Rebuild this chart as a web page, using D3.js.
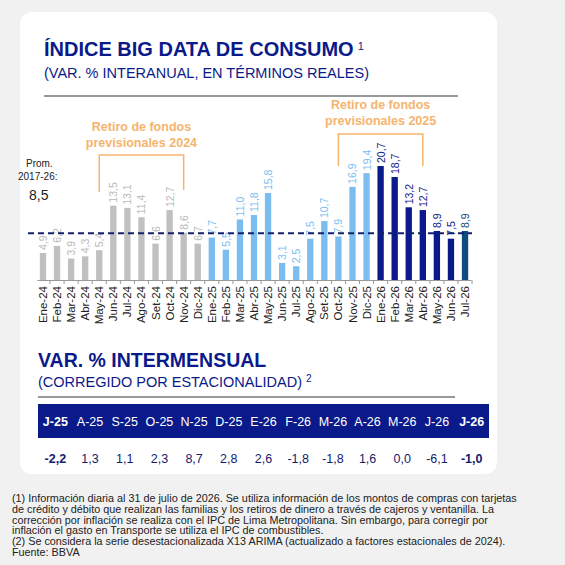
<!DOCTYPE html>
<html><head><meta charset="utf-8">
<script src="https://cdn.jsdelivr.net/npm/d3@7"></script>
<style>body{margin:0;background:#f1f1f1}svg{display:block;font-family:"Liberation Sans",Arial,sans-serif}</style>
</head><body><svg id="svg" width="565" height="565"></svg>
<script>
const months = ["Ene-24","Feb-24","Mar-24","Abr-24","May-24","Jun-24","Jul-24","Ago-24","Set-24","Oct-24","Nov-24","Dic-24",
  "Ene-25","Feb-25","Mar-25","Abr-25","May-25","Jun-25","Jul-25","Ago-25","Set-25","Oct-25","Nov-25","Dic-25",
  "Ene-26","Feb-26","Mar-26","Abr-26","May-26","Jun-26","Jul-26"];
const values = [4.9,6.2,3.9,4.3,5.4,13.5,13.1,11.4,6.6,12.7,8.6,6.6,7.7,5.5,11.0,11.8,15.8,3.1,2.5,7.5,10.7,7.9,16.9,19.4,20.7,18.7,13.2,12.7,8.9,7.5,8.9];
const labels = ["4,9","6,2","3,9","4,3","5,4","13,5","13,1","11,4","6,6","12,7","8,6","6,7","7,7","5,5","11,0","11,8","15,8","3,1","2,5","7,5","10,7","7,9","16,9","19,4","20,7","18,7","13,2","12,7","8,9","7,5","8,9"];
const average = 8.5;
const tableMonths = ["J-25","A-25","S-25","O-25","N-25","D-25","E-26","F-26","M-26","A-26","M-26","J-26","J-26"];
const tableValues = ["-2,2","1,3","1,1","2,3","8,7","2,8","2,6","-1,8","-1,8","1,6","0,0","-6,1","-1,0"];

const navy = "#0b1a8a";
const svg = d3.select("#svg");
svg.append("rect").attr("x",20).attr("y",12).attr("width",477).attr("height",462).attr("rx",12).attr("fill","#fff");

function color(i){ return i<12 ? "#c0c0c0" : i<24 ? "#7cbdf0" : i<30 ? navy : "#0d4c80"; }
function lcolor(i){ return i<12 ? "#b8b8b8" : i<24 ? "#7cbdf0" : i<30 ? navy : "#0d4c80"; }

// titles
svg.append("text").attr("x",44).attr("y",56).attr("fill",navy).attr("font-size",20).attr("font-weight","bold")
  .text("ÍNDICE BIG DATA DE CONSUMO").append("tspan").attr("font-size",11).attr("font-weight","normal").attr("dy",-6).attr("dx",4).text("1");
svg.append("text").attr("x",44).attr("y",78).attr("fill",navy).attr("font-size",14.5).text("(VAR. % INTERANUAL, EN TÉRMINOS REALES)");
svg.append("line").attr("x1",44).attr("x2",458).attr("y1",96).attr("y2",96).attr("stroke","#333").attr("stroke-width",1);

const x = d3.scaleBand().domain(months).range([37,471]).paddingInner(0.55).paddingOuter(0.2);
const y = d3.scaleLinear().domain([0,20.7]).range([280,166]);

const g = svg.append("g");
g.selectAll("rect.bar").data(values).join("rect").attr("class","bar")
  .attr("x",(d,i)=>x(months[i])).attr("width",x.bandwidth())
  .attr("y",d=>y(d)).attr("height",d=>y(0)-y(d)).attr("fill",(d,i)=>color(i));
g.selectAll("text.val").data(values).join("text").attr("class","val")
  .attr("transform",(d,i)=>`translate(${x(months[i])+x.bandwidth()/2+4},${y(d)-3}) rotate(-90)`)
  .attr("font-size",10.5).attr("fill",(d,i)=>lcolor(i)).text((d,i)=>labels[i]);

const ax = svg.append("g").attr("transform","translate(0,280)").call(d3.axisBottom(x).tickSize(4).tickSizeOuter(0));
ax.select(".domain").attr("stroke","#999");
ax.selectAll(".tick line").attr("stroke","#999").attr("transform",`translate(${x.step()/2},0)`);
ax.selectAll(".tick text").attr("transform","rotate(-90)").attr("text-anchor","end").attr("x",-6).attr("y",0).attr("dy","0.35em")
  .attr("font-size",11.5).attr("fill","#222").attr("font-family","Liberation Sans, Arial");

// average line
svg.append("line").attr("x1",28).attr("x2",472).attr("y1",y(average)).attr("y2",y(average))
  .attr("stroke","#14206e").attr("stroke-width",2).attr("stroke-dasharray","6,4");
svg.append("text").attr("x",26).attr("y",167).attr("font-size",10).attr("fill","#222").text("Prom.");
svg.append("text").attr("x",18).attr("y",180).attr("font-size",10).attr("fill","#222").text("2017-26:");
svg.append("text").attr("x",29).attr("y",200).attr("font-size",14).attr("fill","#222").text("8,5");

// annotations
const orange = "#f5b46e";
function bracket(i0,i1,top,bl,br,tx,ty){
  const x0 = x(months[i0])+x.bandwidth()/2, x1 = x(months[i1])+x.bandwidth()/2;
  svg.append("path").attr("d",`M${x0},${bl}V${top}H${x1}V${br}`).attr("fill","none").attr("stroke",orange).attr("stroke-width",1.5);
  tx.forEach((t,k)=>svg.append("text").attr("x",(x0+x1)/2).attr("y",ty+k*16).attr("text-anchor","middle")
    .attr("font-size",12.5).attr("font-weight","bold").attr("fill",orange).text(t));
}
bracket(4,10,155,192,190,["Retiro de fondos","previsionales 2024"],131);
bracket(21,27,134,166,166,["Retiro de fondos","previsionales 2025"],109);

// table section
svg.append("text").attr("x",38).attr("y",367).attr("fill",navy).attr("font-size",19.5).attr("font-weight","bold").text("VAR. % INTERMENSUAL");
svg.append("text").attr("x",38).attr("y",387).attr("fill",navy).attr("font-size",14.5)
  .text("(CORREGIDO POR ESTACIONALIDAD)").append("tspan").attr("font-size",10).attr("dy",-5).attr("dx",4).text("2");
svg.append("line").attr("x1",38).attr("x2",455).attr("y1",397).attr("y2",397).attr("stroke","#333");
svg.append("rect").attr("x",38).attr("y",404).attr("width",451).attr("height",34).attr("fill",navy);
const tx = d3.scaleBand().domain(d3.range(tableMonths.length)).range([38,489]);
tableMonths.forEach((m,i)=>{
  const b = i===0||i===tableMonths.length-1;
  svg.append("text").attr("x",tx(i)+tx.bandwidth()/2).attr("y",426).attr("text-anchor","middle").attr("fill","#fff")
    .attr("font-size",12.5).attr("font-weight",b?"bold":"normal").text(m);
  svg.append("text").attr("x",tx(i)+tx.bandwidth()/2).attr("y",463).attr("text-anchor","middle").attr("fill","#14206e")
    .attr("font-size",12.5).attr("font-weight",b?"bold":"normal").text(tableValues[i]);
});

// footnotes
const notes = ["(1) Información diaria al 31 de julio de 2026. Se utiliza información de los montos de compras con tarjetas",
 "de crédito y débito que realizan las familias y los retiros de dinero a través de cajeros y ventanilla. La",
 "corrección por inflación se realiza con el IPC de Lima Metropolitana. Sin embargo, para corregir por",
 "inflación el gasto en Transporte se utiliza el IPC de combustibles.",
 "(2) Se considera la serie desestacionalizada X13 ARIMA (actualizado a factores estacionales de 2024).",
 "Fuente: BBVA"];
notes.forEach((t,k)=>svg.append("text").attr("x",12).attr("y",502+k*10.8).attr("font-size",10.8)
  .attr("font-family","'Liberation Sans Narrow','Arial Narrow',sans-serif").attr("fill","#222").text(t));
</script></body></html>
